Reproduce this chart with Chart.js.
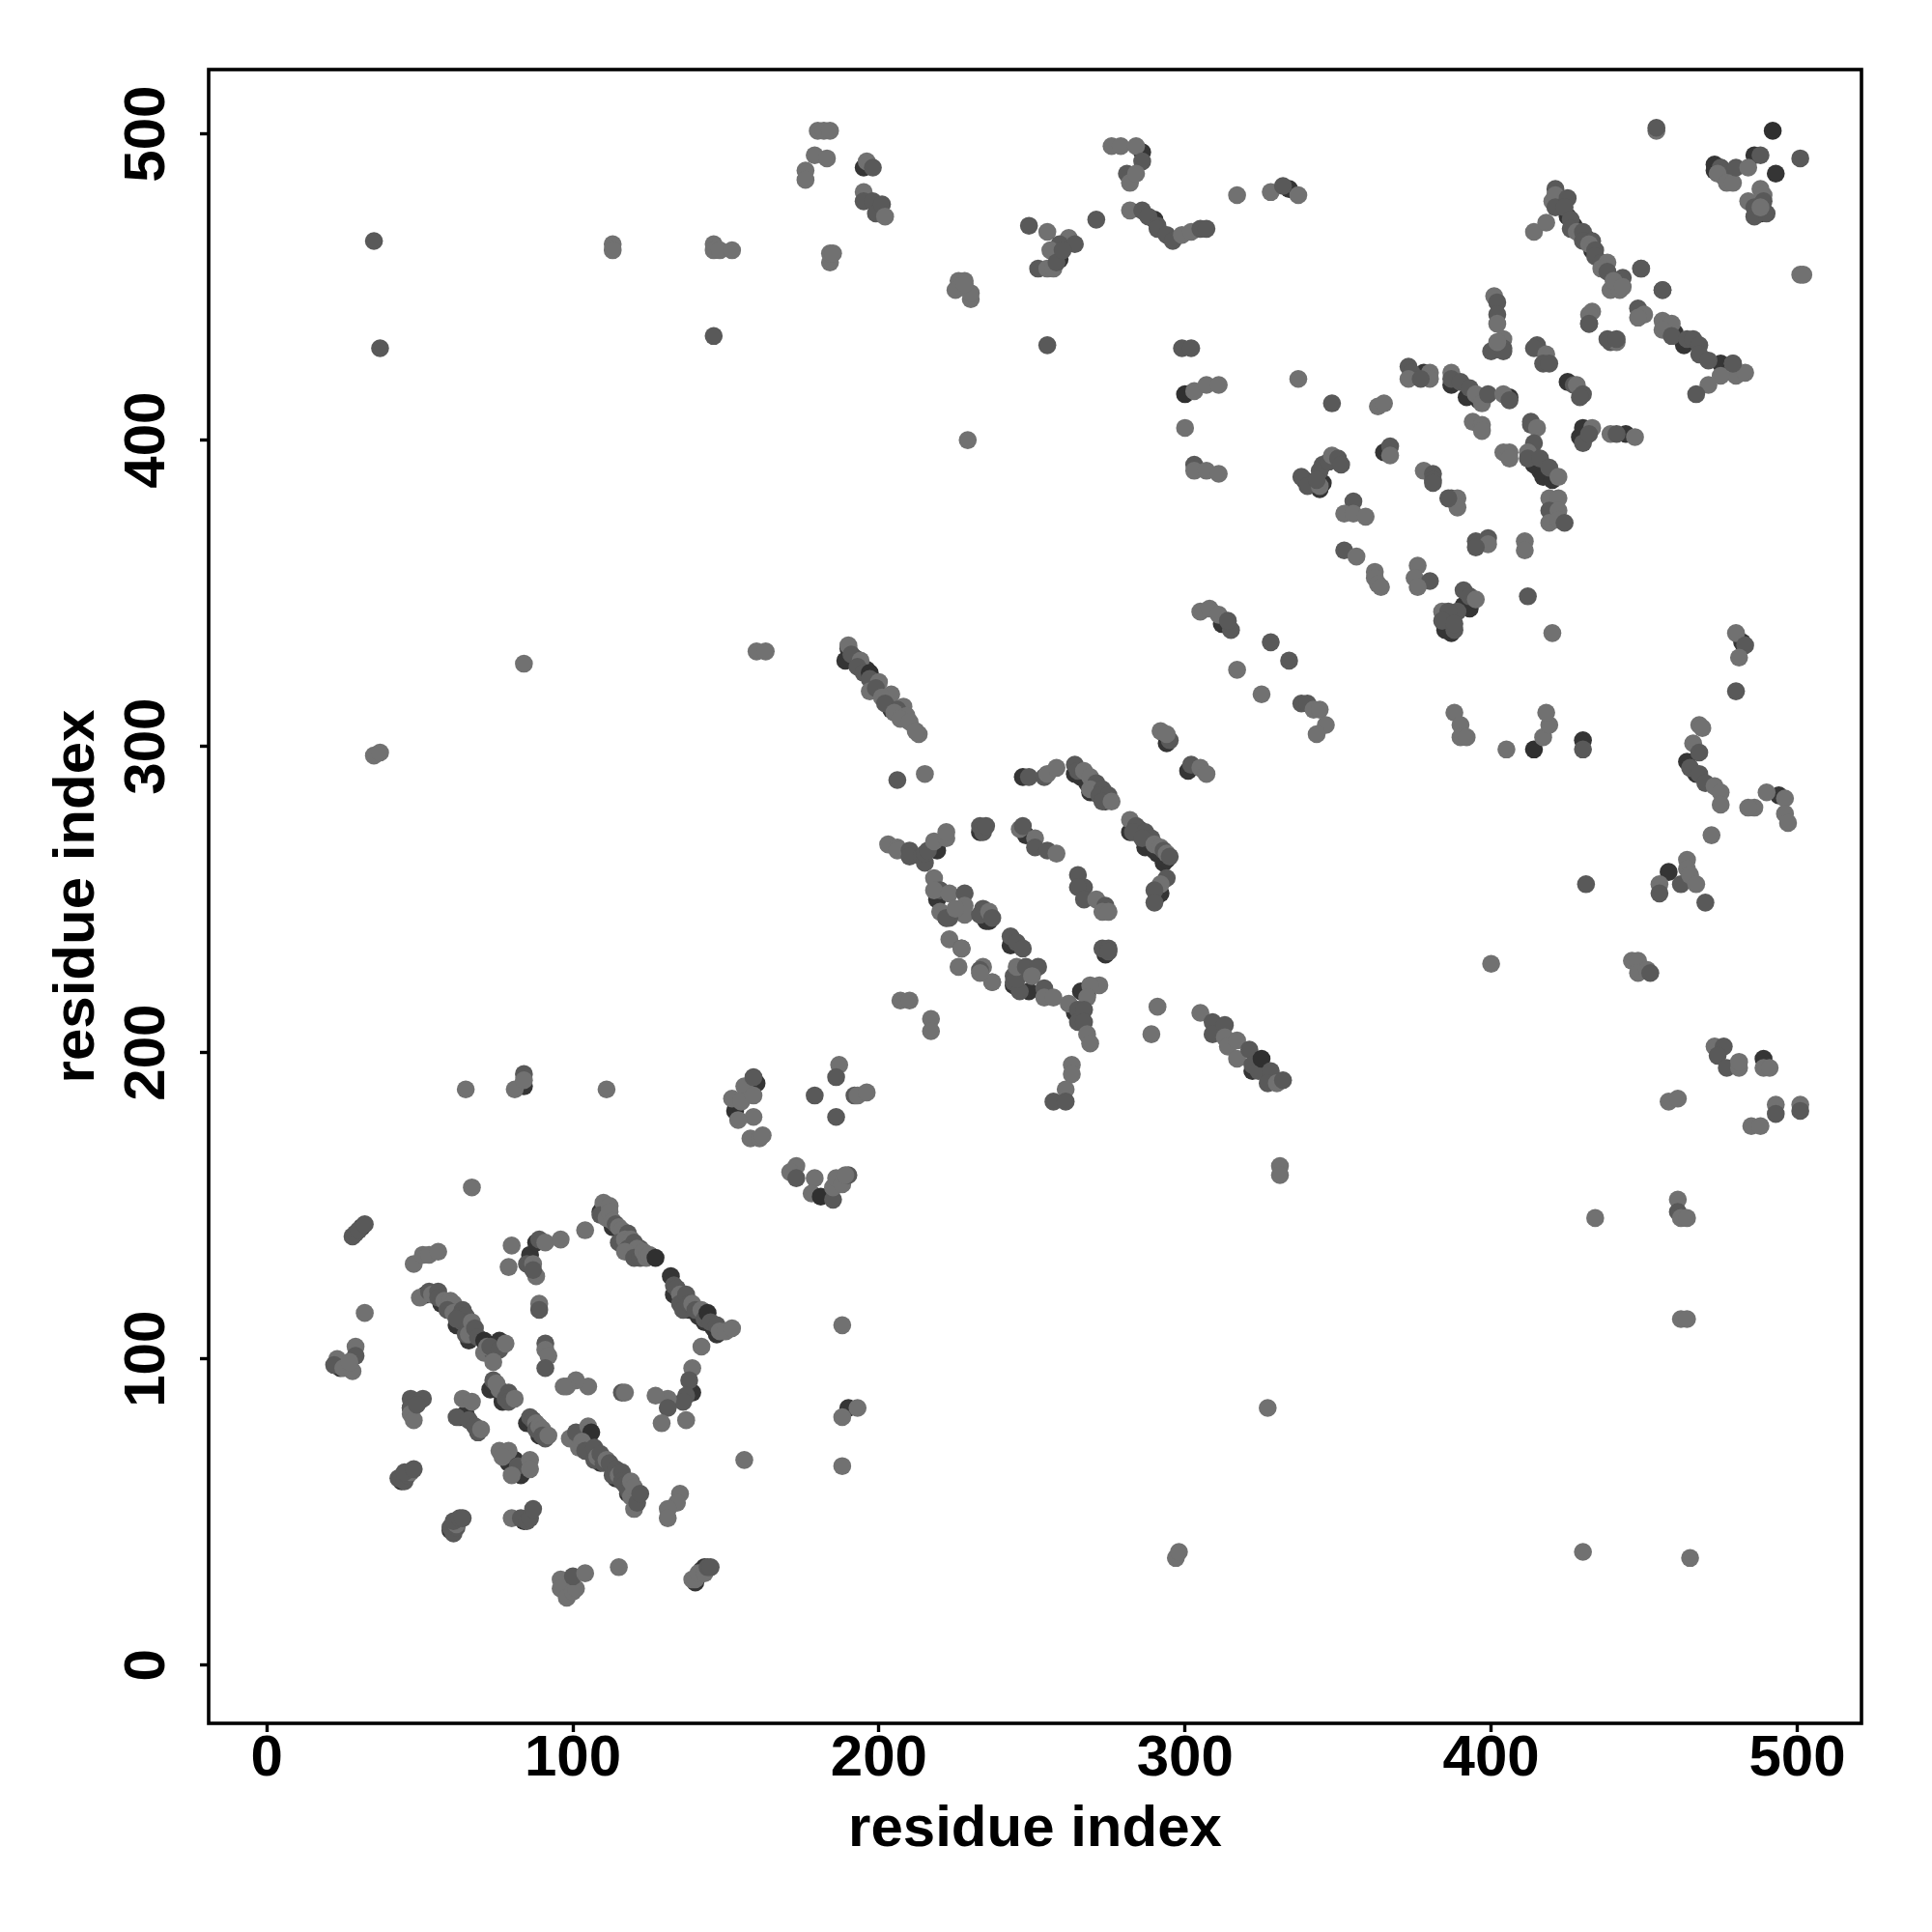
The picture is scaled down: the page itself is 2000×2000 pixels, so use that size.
<!DOCTYPE html>
<html>
<head>
<meta charset="utf-8">
<title>Residue contact map</title>
<script src="https://cdn.jsdelivr.net/npm/chart.js@4"></script>
<style>
  html, body { margin: 0; padding: 0; background: #fff; }
  canvas { display: block; }
</style>
</head>
<body>
<canvas id="contactMap" width="2000" height="2000"></canvas>
<script>
// Step 1: Data. Each contact is [i, j, shade], shade left out = 0
// shade 2 = dark on top, shade 3 = dark but drawn underneath the others
const tickValues = [0, 100, 200, 300, 400, 500];
const axisLabel = "residue index";
const shadeColors = ["#717171", "#595959", "#303030", "#353535"];

const domainOne = [
  [67,156],[28,140,1],[29,141,1],[30,142,1],[31,143,3],[32,144,1],
  [48,131],[51,134],[53,134],[56,135],
  [80,137],[79,130],[85,131,1],[87,131],[88,127],[87,129,1],[86,134,3],[88,138,3],[89,139,1],[91,138],[96,139],[104,142],
  [110,150,3],[110,151],[109,147,1],[111,146],[112,150],[112,148],[113,145],[114,144,1],[115,143],[116,142],[115,138,1],[118,141,1],[117,139],[119,139],[120,138,1],[118,136,1],[122,136,1],[121,136],[117,135],[120,133,1],[122,133,1],[123,135],[124,133],[125,134],[127,133,2],
  [132,127,3],[133,124,1],[133,121,3],[134,123,1],[135,121],[135,118,1],[137,121,1],[136,116,1],[138,118,1],[139,118],[140,116,1],[141,114,3],[142,116],[143,113,1],[144,115,2],[145,112,1],[146,110,3],[147,111,1],[149,109,1],[148,109],[150,109],[152,110],
  [142,104],[139,97],[138,93,1],[139,89,3],[137,88,1],[136,86,1],[131,87],[127,88],[131,84,1],[129,79],[137,80],
  [116,89,1],[117,89],
  [156,67],[105,91],[101,93],[98,91],[97,91],[91,105,1],[91,103],[92,101],[91,97,1],[89,118],[89,116,1],[32,115],
  [50,120],[53,122,1],[54,121],[56,122,1],[56,120,1],[58,119],[60,119],[61,118],[59,116,1],[61,115],[64,116,1],[63,114,1],[65,114,1],[64,112,1],[65,108,1],[62,113,1],[66,110,1],[67,112],[66,108],[68,110,1],[69,107,1],[71,102],[74,102,1],[71,106,2],[76,106,3],[72,104],[73,104,1],[76,103,1],[78,105],[74,99],
  [24,97,3],[29,104],[29,101,1],[23,100],[22,98,1],[25,97],[28,96],[27,99],
  [74,93,1],[74,91,3],[76,90],[75,92],[77,88,3],[79,89,1],[78,87,1],[79,86,1],[81,87],
  [86,81,1],[86,79,3],[87,80,1],[88,79],[88,77,1],[89,78],[90,77],[90,75,1],[91,74,1],[92,75],
  [99,74],[101,76,1],[105,78],[106,76,2],[102,71],[103,73],[106,70,3],[104,70,1],[107,71,1],[107,67,1],[108,68],[109,69,1],[110,66,1],[111,67],[112,66,1],[113,62,1],[114,64,1],[115,62],[116,63,1],[116,60,1],[117,59,1],[118,57,1],[119,60],[119,55],[120,58],[120,51],[121,53,1],[122,56,1],
  [135,56],[134,53],[131,51],[131,48],
  [47,87,1],[51,87,1],[47,84,1],[47,82],[48,80],[49,85,1],
  [64,87],[67,86],[62,81,1],[65,82,3],[66,80,1],[68,78,1],[69,76,1],[70,77],
  [76,70],[79,70],[77,68],[81,67,3],[82,65,1],[80,62],[83,62,3],[86,67],[86,64],
  [43,61,1],[44,61,1],[45,60,1],[46,62,1],[47,63],[45,63,1],[48,64,1],
  [60,45,1],[61,43,1],[62,45,1],[62,46],[61,47,1],[63,48,1],[64,48,1],
  [80,48],[83,48,1],[85,47,1],[86,48,1],[87,51,1],
  [96,28],[96,25],[98,22],[100,24],[101,25],[100,29,1],[104,30],[115,32],
  [142,31,3],[139,28],[140,28],[141,30],[143,30],[143,32,3],[144,32,1],[145,32,1],
  [188,111],[190,84,3],[193,84],[188,81],[188,65]
];

const linkerTwo = [
  [65,188],[81,188],[84,189,3],[84,193,1],[84,191],[111,188],[84,327],[35,297],[37,298],
  [153,181,2],[152,185],[156,189],[155,184],[159,186],[160,190,3],[159,192,1],[159,179],[154,178],[158,172],[161,172],[162,173],
  [187,196],[186,192,1],[179,186,1],[192,186,1],[193,186],[196,187],[186,179,1],
  [173,163],[171,161],[173,159,1],[179,159],[178,154],[181,153,2],[185,152,1],[185,156],[186,159],[188,157],[190,160,1],[189,160],
  [207,217],[210,217],[217,211],[217,207]
];

const domainTwo = [
  [206,289,1],[215,291],[213,304],
  [247,290,3],[249,290,1],[254,290,1],[255,291],[258,293],
  [266,290,3],[268,288,3],[270,285,3],[274,282,3],[264,294,1],[265,292,1],[267,292],[269,290],[271,288,1],[269,286],[273,286,1],[272,284,1],[275,284,1],[273,282,1],[276,282],
  [294,301,3],[295,302,1],[292,305],[294,304],[301,292,3],[302,294,1],[305,293],[307,291],
  [285,273,3],[288,268,3],[291,265,3],[290,266,3],[294,263,3],[282,276],[284,274,1],[283,272,1],[287,272,1],[289,270,1],[286,270,1],[290,268],[292,267],[293,266,1],[294,265],[295,264,1],
  [292,252,3],[294,257,1],[292,255],[290,253,1],[290,249,1],
  [233,274,1],[234,273,1],[234,272,1],[235,274,1],
  [248,271,3],[246,273],[247,274,1],[251,270],[251,267,1],[255,266,1],[258,265],
  [265,258,1],[267,254,1],[265,254,1],[267,250,1],[271,250],[274,248,1],[273,246],[275,246],
  [274,232,3],[273,234,1],[275,234,1],[275,233,1],
  [219,266,3],[203,268],[206,267],[206,266],[210,266,1],[210,264,1],[214,264,1],[215,262,1],[215,265,1],[216,266,1],[218,269],[222,270],[222,272],
  [219,250,3],[218,257],[220,253,1],[218,253],[220,246],[223,252],[228,252,1],[228,248],[228,245],[223,244,1],[222,244,1],[225,247],
  [236,243,3],[234,247,1],[233,245,1],[236,246],[237,244,1],
  [223,237],[227,234,1],[227,234],[234,228],[233,227,1],[237,223],[237,223],
  [243,235,3],[243,238,1],[245,236,1],[247,234,1],
  [249,220,3],[244,225,1],[244,223,1],[246,220,1],[245,224,1],[245,228],[248,228,1],[252,228,1],[250,225],[254,221,1],[254,218],[257,218],
  [266,220,3],[272,222],[269,222],[268,218],[262,216],[265,214,1],[267,214,1],[265,210,1],[267,210,1],[268,206],[269,203],
  [291,215],[289,206],
  [305,213],[309,210,1],[309,206,1],[313,209,1],[313,205],[314,202],[317,204],[317,198],[321,201,1],[322,196,1],[324,194,1],[325,198,2],[328,194,1],[327,190,1],[330,190],[332,191,1],
  [263,196],[263,193],[261,188],[257,184,1],[261,184,1],
  [226,228],[233,226]
];

const strandsThree = [
  [190,332,3],[192,329,3],[189,328,3],[190,333],[191,330,1],[194,328],[193,326,1],[195,324,1],[197,324,2],[197,322,1],[200,321],[197,318],[199,319,1],[204,317],[201,316],[202,314,1],[208,313],[206,312,1],[205,311],[209,310],[207,309],[210,308],[212,305],
  [160,331],[163,331],
  [328,334,1],[334,328,1],[317,325],[325,317],
  [338,314,1],[340,314,1],[342,312],[344,312],[346,307],[343,304],
  [305,344],[308,345],[311,343],[312,340,3],[315,338,1],[314,341,1],
  [331,163],[331,160],[327,84],[297,35],[298,37]
];

const domainThree = [
  [401,447],[402,445,1],[402,441,1],[402,438],
  [400,429,1],[404,433],[404,430,1],[404,429,1],[402,432],
  [415,431,1],[414,430,1],[418,428],[417,425,1],[419,425,1],
  [425,419,3],[427,418,1],[428,418],[430,415,1],[429,414,1],
  [433,442],[432,438,1],[439,432,1],[441,432],
  [456,449,1],[439,449],[442,449],[443,453,1],[449,456],
  [337,420],[348,412,1],[363,411],[365,412],
  [373,424,1],[374,422,1],[373,420],[378,422,3],[380,422],[380,420],[377,420,1],
  [392,414,3],[387,422],[387,420,1],[390,419,1],[393,417,1],[395,415],[397,412],[399,415,1],[404,415],[406,414,3],[406,413,1],
  [394,406],[397,405],[397,403],
  [413,406,1],[413,405,1],[415,404],[414,399,1],[404,396],[406,396],[406,394],
  [414,392,3],[417,388,3],[420,387,3],[412,396],[412,394,1],[416,394,1],[419,391,1],[422,388],
  [430,404,3],[430,399,1],[433,404],[432,402,1],[439,402],[441,402,1],[444,402,3],[447,401],
  [339,387,3],[345,392,1],[344,390,1],[338,388,1],[340,385,1],[344,385],[343,387,1],[347,393,1],[348,395],[350,394,1],[351,392,1],
  [365,396,3],[367,398,1],[367,395],
  [378,390],[381,389,1],[381,387,1],[381,386,1],
  [387,381,1],[389,381],[389,378],[386,381,1],
  [355,380,1],[352,376],[355,376],[359,375],
  [395,367,1],[399,368,1],[399,366],[395,365,1],[411,367],[411,364],
  [419,381],[422,381],[419,377,1],[422,377],[419,373],[422,374],[424,373,1],
  [352,364,1],[356,362],[362,357],[362,355],[363,353],[364,352],
  [376,359],[375,355],[380,354,1],[376,352],
  [391,346,3],[391,351,1],[393,349,1],[395,348],[389,344,1],[384,344],[386,344,1],[384,341,1],[385,338,3],[388,338,1],[388,340,1],
  [412,349,1],[420,337]
];

const upperStrands = [
  [35,465,1],[37,430,1],[113,464],[113,462],[146,464],[146,462],[148,462],[152,462],[146,434,1],
  [176,488],[176,485],[179,493],[183,492],[180,501],[182,501],[184,501],[184,458],[184,461],[185,461],
  [195,489,3],[196,491],[198,489,1],[195,481],[195,478,1],[198,478,1],[199,474,1],[201,477,1],[202,473],
  [226,452],[228,452],[225,449],[230,446],[230,448],[228,451],[229,400],
  [259,459,3],[249,470,1],[252,456,1],[255,456],[255,431,1],[257,456],[255,468],[262,466],[259,464,1],[256,462],[258,458,1],[264,464,1],[260,462,1],
  [271,472,1],[276,496],[279,496],[284,496],[286,494,3],[286,491,1],[281,487,1],[282,484],[284,487],
  [290,472,3],[282,475],[286,475,1],[288,473,1],[291,470,1],[291,469,1],[294,467,1],[296,465,1],[299,467],[302,468],[305,469,1],[307,469,1],
  [317,480],[328,481],[332,483,1],[334,482,3],[337,480],[299,430,1],[302,430,1],[300,415,2],[303,416],[307,418],[311,418],
  [300,404],[303,392,1],[303,390],[307,390],[311,389]
];

const rightSide = [
  [454,501],[454,502,1],[492,501,2],[501,492,1],[493,487,3],
  [475,489,3],[473,490,3],[489,475,3],[475,489,1],[476,487,1],[476,486,1],[474,487],[477,484],[479,484],[480,489,1],[484,489],[486,493,3],[488,493,1],[484,478],[486,476,1],[486,473,1],[490,474,1],[488,482],[489,480],[489,478,1],[488,476],
  [501,454],[502,454],[449,456,1],[456,449,1],
  [427,470,3],[431,466,3],[433,462,3],[414,468],[418,471],[420,478],[421,482,1],[421,480],[421,476,1],[425,479,1],[424,476,1],[426,472,1],[426,469,1],[428,468],[430,468,1],[430,465,1],[433,465,1],[432,464],[434,462,1],[434,460,1],[436,458,1],[438,458],[436,456],[438,455,1],[440,452],[443,450],
  [432,441],[432,438,1],[438,433,1],[441,433,1],[448,443,1],[450,441],[448,440],
  [460,435,3],[475,425,3],[456,439],[459,438],[456,436],[459,434,1],[464,433,1],[466,433,1],[468,431,1],[468,428,1],[471,426,1],[479,425],[480,421],[475,421],[471,418],[467,415,1],[483,422],[479,425,1],
  [388,311],[390,307],[390,303],[392,303],[405,299],[414,299,2],[417,303],[419,307],[418,311],[430,302,3],[430,299,1],
  [431,255,1],[400,229],
  [482,334,3],[480,337],[483,333,1],[481,329],[480,318,1],
  [464,295,3],[468,307],[469,306],[466,301],[468,298,1],[465,293,1],[468,291,1],[470,288,1],[473,287],[475,285],[475,281],
  [472,271],[490,285],[486,280],[484,280],[494,284,3],[496,283],[496,278],[497,275],
  [458,259,3],[464,263],[464,260],[455,255],[455,252,1],[462,255,1],[465,258],[467,255],[470,249,1],
  [446,230],[448,230],[448,226],[451,227],[452,226,1],
  [473,202],[476,202,1],[474,199,1],[477,195,1],[481,195],[481,197],[489,198,3],[489,195],[491,195],
  [501,183],[501,181,1],[493,183],[493,180,1],[485,176],[488,176],
  [458,184],[461,185],[461,152],[461,148,1],[462,146],[464,146],[434,146],[462,113],[464,113],[430,37],[465,35]
];

// dark contacts that only peek out from under the strands
const darkUnder = [
  [109,148,3],[113,143,3],[117,137,3],[121,134,3],[134,122,3],[138,116,3],[143,112,3],[147,108,3],
  [52,121,3],[57,118,3],[62,111,3],[66,106,3],[73,90,3],[77,86,3],[85,79,3],[89,75,3],
  [104,72,3],[109,66,3],[114,61,3],[118,56,3],[47,84,3],[63,81,3],[79,66,3],[44,60,3],[60,44,3],[84,47,3],[140,27,3],[98,23,3],
  [264,291,3],[269,285,3],[282,272,3],[287,267,3],[293,262,3],[233,272,3],[222,244,3],[235,243,3],[244,236,3],[244,222,3],[264,213,3],[268,219,3],
  [196,325,3],[204,312,3],[345,386,3],[344,384,3],[387,337,3],[393,345,3],[387,418,3],[396,413,3],[413,396,3],[416,390,3],[429,401,3],
  [473,488,3],[488,474,3],[425,473,3],[463,431,3],[467,291,3],[322,194,3]
];

// Step 2: Flatten the groups for the library, the under-dark ones go first
const contacts = [...darkUnder, ...domainOne, ...linkerTwo, ...domainTwo, ...strandsThree, ...domainThree, ...upperStrands, ...rightSide]
  .sort((a, b) => (b[2] === 3) - (a[2] === 3));
const points = contacts.map(c => ({ x: c[0], y: c[1] }));
const pointColors = contacts.map(c => shadeColors[c[2] || 0]);

// Step 3: Chart creation
const boxFont = { family: "'Liberation Sans', Arial, sans-serif", weight: "bold", size: 60 };

// R style box round the plot
const frame = {
  id: "frame",
  afterDraw(chart) {
    const a = chart.chartArea;
    const c = chart.ctx;
    c.save();
    c.strokeStyle = "#000";
    c.lineWidth = 3.6;
    c.strokeRect(a.left, a.top, a.right - a.left, a.bottom - a.top);
    c.restore();
  }
};

const contactMap = new Chart(document.getElementById("contactMap").getContext("2d"), {
  type: "scatter",
  data: {
    datasets: [{
      label: axisLabel,
      data: points,
      backgroundColor: pointColors,
      borderWidth: 0,
      pointRadius: 9.3,
      pointHoverRadius: 9.3
    }]
  },
  options: {
    responsive: false,
    animation: false,
    events: [],
    layout: { padding: { left: 0, top: 72, right: 73, bottom: 0 } },
    plugins: { legend: { display: false }, tooltip: { enabled: false }, title: { display: false } },
    scales: {
      x: {
        type: "linear",
        min: -19,
        max: 521,
        afterBuildTicks: axis => { axis.ticks = tickValues.map(v => ({ value: v })); },
        afterFit: axis => { axis.height = 216; },
        border: { display: false },
        grid: { drawOnChartArea: false, drawTicks: true, tickLength: 9, tickWidth: 3.4, tickColor: "#000" },
        ticks: { color: "#000", font: boxFont, padding: -8, maxRotation: 0, minRotation: 0, autoSkip: false },
        title: { display: true, text: axisLabel, color: "#000", font: boxFont, padding: { top: 0, bottom: 70 } }
      },
      y: {
        type: "linear",
        min: -19,
        max: 521,
        afterBuildTicks: axis => { axis.ticks = tickValues.map(v => ({ value: v })); },
        afterFit: axis => { axis.width = 216; },
        border: { display: false },
        grid: { drawOnChartArea: false, drawTicks: true, tickLength: 9, tickWidth: 3.4, tickColor: "#000" },
        ticks: { color: "#000", font: boxFont, padding: 3, minRotation: 90, maxRotation: 90, crossAlign: "center", autoSkip: false },
        title: { display: true, text: axisLabel, color: "#000", font: boxFont, padding: { top: 44, bottom: 0 } }
      }
    }
  },
  plugins: [frame]
});
</script>
</body>
</html>
